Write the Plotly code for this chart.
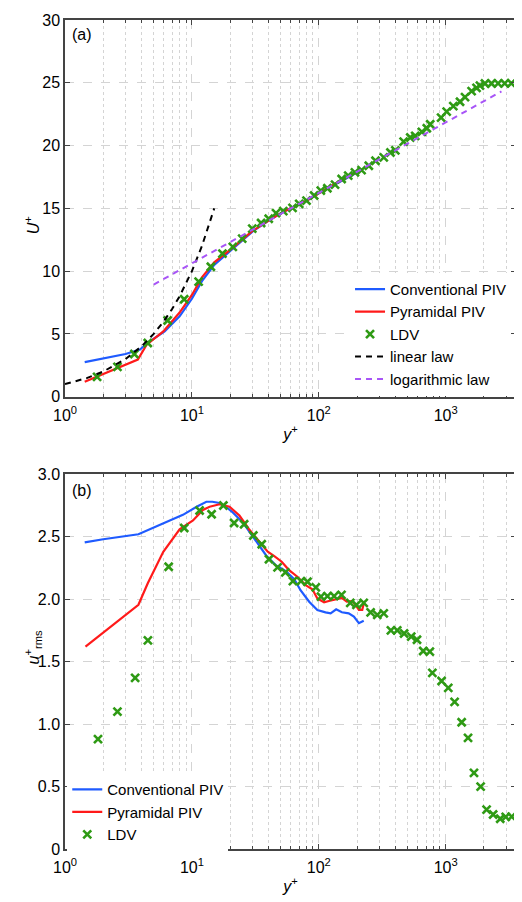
import plotly.graph_objects as go

# ---------------- data ----------------
# (a) mean velocity
conv_y_a = [1.43, 2.0, 3.0, 3.9, 4.5, 6.1, 8.0, 10.0, 12.0, 15.0, 20.0, 25.0, 30.0, 40.0, 50.0, 60.0, 80.0, 100.0, 130.0, 160.0, 200.0]
conv_U = [2.75, 3.05, 3.4, 3.75, 4.3, 5.2, 6.4, 7.8, 9.2, 10.5, 11.6, 12.45, 13.15, 14.0, 14.6, 15.0, 15.6, 16.2, 16.85, 17.35, 17.85]
pyr_y_a = [1.43, 2.0, 2.7, 3.75, 4.4, 5.95, 8.0, 10.0, 12.0, 15.0, 20.0, 25.0, 30.0, 40.0, 50.0, 60.0, 80.0, 100.0, 130.0, 160.0, 200.0]
pyr_U = [1.19, 1.8, 2.4, 2.96, 4.14, 5.2, 6.7, 8.1, 9.5, 10.7, 11.7, 12.5, 13.2, 14.0, 14.6, 15.0, 15.6, 16.2, 16.9, 17.4, 17.9]
ldv_y_a = [1.79, 2.59, 3.52, 4.49, 6.44, 8.69, 11.3, 14.1, 17.4, 21.0, 24.9, 29.9, 35.1, 40.3, 46.0, 52.5,
           62.1, 70.1, 80.0, 91.9, 103.7, 116.8, 134.3, 151.4, 170.6, 192.6, 217.3, 247.8, 279.8, 325, 367, 401,
           466, 526, 575, 649, 710, 755, 920, 1018, 1148, 1297, 1420, 1600, 1750, 1862, 2038, 2296, 2588, 2918, 3290]
ldv_U = [1.58, 2.37, 3.40, 4.28, 6.07, 7.76, 9.16, 10.35, 11.4, 11.93, 12.59, 13.38, 13.83, 14.17, 14.62, 14.78,
         15.04, 15.36, 15.62, 16.02, 16.41, 16.6, 16.89, 17.34, 17.6, 17.87, 18.05, 18.39, 18.79, 19.06, 19.45, 19.62,
         20.32, 20.64, 20.77, 21.09, 21.38, 21.7, 22.22, 22.7, 23.14, 23.49, 23.86, 24.33, 24.6, 24.78, 24.94, 24.94, 24.95, 24.95, 24.96]
lin_y = [1, 1.5, 2, 3, 4, 5, 6, 7, 8, 10, 12, 15]
lin_U = [1, 1.5, 2, 3, 4, 5, 6, 7, 8, 10, 12, 15]
log_y = [5, 50, 500, 2750]
log_U = [8.93, 14.54, 20.16, 24.31]

# (b) streamwise rms
conv_y_b = [1.43, 2.0, 3.79, 5.0, 6.7, 8.5, 10.9, 13.0, 14.5, 16.5, 19.0, 21.0, 25.2, 29.3, 34.0, 38.5, 46.0, 55.0,
            64.0, 72.0, 84.0, 97.4, 113, 124, 137, 152, 172, 189, 207, 226]
conv_u = [2.455, 2.48, 2.52, 2.575, 2.63, 2.675, 2.74, 2.78, 2.78, 2.77, 2.73, 2.695, 2.615, 2.52, 2.43, 2.35, 2.27, 2.225,
          2.16, 2.07, 1.98, 1.914, 1.895, 1.887, 1.919, 1.895, 1.887, 1.861, 1.808, 1.827]
pyr_y_b = [1.45, 3.79, 4.5, 5.95, 8.0, 10.2, 12.2, 13.8, 16.5, 19.8, 23.7, 28.2, 34.0, 39.6, 44.6, 51.0, 58.0, 67.8,
           78.7, 89.0, 97.4, 110, 120, 136, 152, 166, 183, 195, 207, 220, 226]
pyr_u = [1.62, 1.955, 2.13, 2.38, 2.56, 2.63, 2.715, 2.74, 2.76, 2.74, 2.67, 2.56, 2.46, 2.38, 2.345, 2.30, 2.235, 2.18,
         2.113, 2.08, 2.006, 1.975, 1.986, 2.0, 2.01, 1.98, 1.985, 1.955, 1.914, 1.914, 1.965]
ldv_y_b = [1.82, 2.59, 3.57, 4.5, 6.56, 8.7, 11.5, 14.3, 17.7, 21.5, 25.8, 30.5, 35.5, 40.5, 47.3, 54.5, 62.5, 72.3,
           81.4, 94.7, 104, 117, 132, 151, 177, 198, 226, 256, 289, 325, 370, 415, 470, 535, 594, 665, 750, 785,
           928, 1048, 1175, 1336, 1500, 1670, 1885, 2100, 2365, 2690, 2970, 3310]
ldv_u = [0.88, 1.10, 1.37, 1.67, 2.26, 2.57, 2.71, 2.68, 2.75, 2.61, 2.60, 2.51, 2.44, 2.32, 2.255, 2.215, 2.145, 2.145,
         2.14, 2.095, 2.02, 2.025, 2.025, 2.035, 1.97, 1.955, 1.97, 1.895, 1.875, 1.887, 1.75, 1.75, 1.725, 1.70, 1.675,
         1.585, 1.58, 1.41, 1.345, 1.29, 1.178, 1.015, 0.89, 0.61, 0.50, 0.315, 0.276, 0.242, 0.257, 0.259]

x_tickvals = [1, 10, 100, 1000]
x_ticktext = ["10<sup>0</sup>", "10<sup>1</sup>", "10<sup>2</sup>", "10<sup>3</sup>"]
x_minorvals = [2, 3, 4, 5, 6, 7, 8, 9, 20, 30, 40, 50, 60, 70, 80, 90,
               200, 300, 400, 500, 600, 700, 800, 900, 2000, 3000]
ya_tickvals = [0, 5, 10, 15, 20, 25, 30]
ya_ticktext = ["0", "5", "10", "15", "20", "25", "30"]
yb_tickvals = [0, 0.5, 1.0, 1.5, 2.0, 2.5, 3.0]
yb_ticktext = ["0", "0.5", "1.0", "1.5", "2.0", "2.5", "3.0"]

# ---------------- style ----------------
FONT = "Liberation Sans, Arial, sans-serif"
BLUE = "#1f5bff"
RED = "#ff1a1a"
GREEN = "#2e9a14"
PURPLE = "#a855f7"
AXC = "#444444"
GRID = "#d4d4d4"

fig = go.Figure()

def add_set(xa, ya, legend, cy, cv, py, pv, ly, lv):
    fig.add_trace(go.Scatter(x=cy, y=cv, mode="lines", name="Conventional PIV",
                             line=dict(color=BLUE, width=2.2), xaxis=xa, yaxis=ya, legend=legend))
    fig.add_trace(go.Scatter(x=py, y=pv, mode="lines", name="Pyramidal PIV",
                             line=dict(color=RED, width=2.2), xaxis=xa, yaxis=ya, legend=legend))
    fig.add_trace(go.Scatter(x=ly, y=lv, mode="markers", name="LDV",
                             marker=dict(symbol="x-thin-open", size=8, color=GREEN,
                                         line=dict(color=GREEN, width=2.6)),
                             xaxis=xa, yaxis=ya, legend=legend))

add_set("x", "y", "legend", conv_y_a, conv_U, pyr_y_a, pyr_U, ldv_y_a, ldv_U)
fig.add_trace(go.Scatter(x=lin_y, y=lin_U, mode="lines", name="linear law",
                         line=dict(color="black", width=2, dash="6px,5px"), xaxis="x", yaxis="y", legend="legend"))
fig.add_trace(go.Scatter(x=log_y, y=log_U, mode="lines", name="logarithmic law",
                         line=dict(color=PURPLE, width=2, dash="6px,5px"), xaxis="x", yaxis="y", legend="legend"))
add_set("x2", "y2", "legend2", conv_y_b, conv_u, pyr_y_b, pyr_u, ldv_y_b, ldv_u)

xcommon = dict(type="log", range=[0, 3.554], tickmode="array", tickvals=x_tickvals, ticktext=x_ticktext,
               ticks="inside", ticklen=5, tickcolor=AXC, showline=True, linecolor=AXC, linewidth=1.5,
               mirror="allticks", showgrid=True, gridcolor=GRID, griddash="dash", gridwidth=1,
               zeroline=False, tickfont=dict(size=16, color="black", family=FONT),
               ticklabelstandoff=3,
               minor=dict(tickmode="array", tickvals=x_minorvals, ticks="inside", ticklen=3, tickcolor=AXC,
                          showgrid=True, gridcolor=GRID, griddash="dot", gridwidth=1))
ycommon = dict(ticks="inside", ticklen=5, tickcolor=AXC, showline=True, linecolor=AXC, linewidth=1.5,
               mirror="allticks", showgrid=True, gridcolor=GRID, griddash="dash", gridwidth=1,
               zeroline=False, tickfont=dict(size=16, color="black", family=FONT), ticklabelstandoff=0)

D_TOP = [0.5456, 1.0]
D_BOT = [0.0, 0.452]

# page body has an 8px margin: figure is offset by 8px, so size/margins compensate
fig.update_layout(
    width=514, height=894,
    margin=dict(l=57, r=4, t=7, b=53),
    paper_bgcolor="white", plot_bgcolor="white",
    font=dict(family=FONT, size=16, color="black"),
    xaxis=dict(**xcommon, domain=[0, 1], anchor="y",
               title=dict(text="<i>y</i><sup>+</sup>", standoff=6, font=dict(size=16))),
    yaxis=dict(**ycommon, domain=D_TOP, anchor="x", range=[0, 30],
               tickvals=ya_tickvals, ticktext=ya_ticktext),
    xaxis2=dict(**xcommon, domain=[0, 1], anchor="y2",
                title=dict(text="<i>y</i><sup>+</sup>", standoff=6, font=dict(size=16))),
    yaxis2=dict(**ycommon, domain=D_BOT, anchor="x2", range=[0, 3],
                tickvals=yb_tickvals, ticktext=yb_ticktext),
    legend=dict(x=0.632, y=0.695, xanchor="left", yanchor="top", bgcolor="white",
                font=dict(size=15, family=FONT), tracegroupgap=0, itemwidth=30),
    legend2=dict(x=0.005, y=0.0915, xanchor="left", yanchor="top", bgcolor="white",
                 font=dict(size=15, family=FONT), tracegroupgap=0, itemwidth=30),
    showlegend=True,
    annotations=[
        dict(text="(a)", x=0.012, y=0.995, xref="paper", yref="paper", xanchor="left", yanchor="top",
             showarrow=False, font=dict(size=16)),
        dict(text="(b)", x=0.012, y=0.445, xref="paper", yref="paper", xanchor="left", yanchor="top",
             showarrow=False, font=dict(size=16)),
        dict(text="<i>U</i><sup>+</sup>", x=-0.099, y=0.766, xref="paper", yref="paper",
             textangle=-90, showarrow=False, font=dict(size=16)),
        dict(text="<i>u</i><sup>+</sup><sub>rms</sub>", x=-0.099, y=0.2206, xref="paper", yref="paper",
             textangle=-90, showarrow=False, font=dict(size=16)),
    ],
)

fig.write_html("out.html")
